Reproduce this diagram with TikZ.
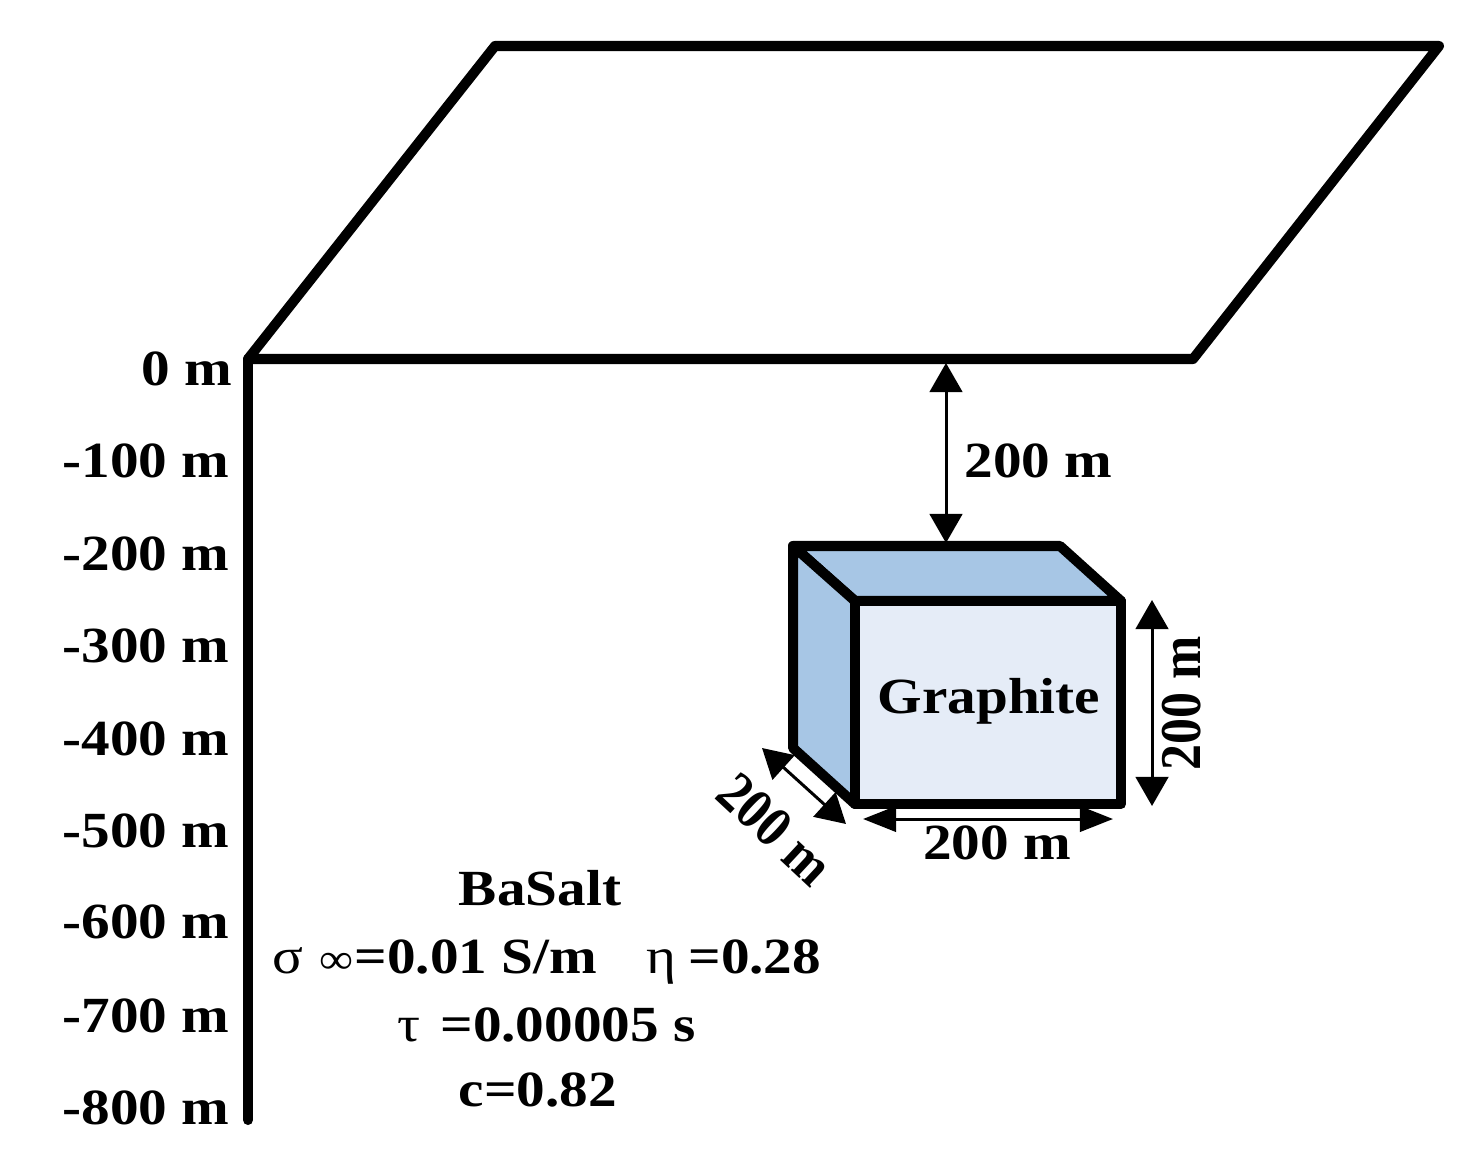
\documentclass[tikz,border=0pt]{standalone}
\usepackage{fontspec}
\setmainfont[FakeStretch=1.13]{Liberation Serif}
\newfontfamily\upfont[FakeStretch=0.9]{Liberation Serif}
\usetikzlibrary{arrows.meta}
\definecolor{topblue}{HTML}{A7C6E5}
\definecolor{frontblue}{HTML}{E5ECF7}
\tikzset{
  heavy/.style={line width=2.85pt,line join=round,line cap=round},
  depthlabel/.style={anchor=base east,font=\fontsize{14.4}{18}\selectfont\bfseries,inner sep=0pt},
  sizelabel/.style={font=\fontsize{14.4}{18}\selectfont\bfseries,inner sep=0pt},
  dimarrow/.style={line width=0.85pt,{Triangle[width=9.3pt,length=8.3pt]}-{Triangle[width=9.3pt,length=8.3pt]}},
  flatarrow/.style={line width=0.85pt,{Triangle[width=7.2pt,length=9.4pt]}-{Triangle[width=7.2pt,length=9.4pt]}}
}
\newcommand{\thinsym}[1]{{\mdseries #1}}
\begin{document}
    \begin{tikzpicture}[x=0.01cm,y=-0.01cm]
          \useasboundingbox (0,0) rectangle (1479,1164);
          \coordinate (plateA) at (248,359);
          \coordinate (plateB) at (495,46);
          \coordinate (plateC) at (1439,46);
          \coordinate (plateD) at (1193,359);
          \coordinate (axisEnd) at (248,1120);
          \draw[heavy] (plateA) -- (plateB) -- (plateC) -- (plateD) -- cycle;
          \draw[heavy] (plateA) -- (axisEnd);
          % block corners
          \coordinate (backTL) at (793,546);
          \coordinate (backTR) at (1060,546);
          \coordinate (backBL) at (793,748);
          \coordinate (frontTL) at (855,601);
          \coordinate (frontTR) at (1121,601);
          \coordinate (frontBR) at (1121,804);
          \coordinate (frontBL) at (855,804);
          \draw[heavy,fill=topblue] (backTL) -- (backTR) -- (frontTR) -- (frontTL) -- cycle;
          \draw[heavy,fill=topblue] (backTL) -- (frontTL) -- (frontBL) -- (backBL) -- cycle;
          \draw[heavy,fill=frontblue] (frontTL) -- (frontTR) -- (frontBR) -- (frontBL) -- cycle;
          \node[sizelabel,anchor=base] (graphite) at (989,713) {Graphite};
          % depth scale
          \node[depthlabel] (d0) at (233,386) {0 m};
          \node[depthlabel] (d100) at (230,477) {-100 m};
          \node[depthlabel] (d200) at (230,570) {-200 m};
          \node[depthlabel] (d300) at (230,662) {-300 m};
          \node[depthlabel] (d400) at (230,755) {-400 m};
          \node[depthlabel] (d500) at (230,847) {-500 m};
          \node[depthlabel] (d600) at (230,938) {-600 m};
          \node[depthlabel] (d700) at (230,1032) {-700 m};
          \node[depthlabel] (d800) at (230,1124) {-800 m};
          % dimensions
          \coordinate (gapTop) at (946,363);
          \coordinate (gapBot) at (946,543);
          \draw[dimarrow] (gapTop) -- (gapBot);
          \node[sizelabel,anchor=base west] (gapLabel) at (964,477) {200 m};
          \coordinate (highTop) at (1152,600);
          \coordinate (highBot) at (1152,806);
          \draw[dimarrow] (highTop) -- (highBot);
          \node[inner sep=0pt,font=\upfont\fontsize{16.4}{18}\selectfont\bfseries,rotate=90,anchor=base] (highLabel) at (1200,703) {200 m};
          \coordinate (wideL) at (863,819);
          \coordinate (wideR) at (1113,819);
          \draw[flatarrow] (wideL) -- (wideR);
          \node[sizelabel,anchor=base] (wideLabel) at (997,859) {200 m};
          \coordinate (deepA) at (762,748);
          \coordinate (deepB) at (846,824);
          \draw[dimarrow] (deepA) -- (deepB);
          \node[inner sep=0pt,font=\upfont\fontsize{16.4}{18}\selectfont\bfseries,rotate=-43,anchor=center] (deepLabel) at (775,829) {200 m};
          % rock parameters
          \node[sizelabel,anchor=base] (rockName) at (540,905) {BaSalt};
          \node[sizelabel,anchor=base west] (rockSigma) at (272,973) {\thinsym{σ}\hspace{0.32em}{\mdseries\fontsize{12}{12}\selectfont ∞}\hspace{0.02em}=0.01 S/m\hspace{0.98em}\thinsym{η}\hspace{0.23em}=0.28};
          \node[sizelabel,anchor=base west] (rockTau) at (397,1041) {\thinsym{τ}\hspace{0.39em}=0.00005 s};
          \node[sizelabel,anchor=base] (rockC) at (538,1106) {c=0.82};
    \end{tikzpicture}
\end{document}
